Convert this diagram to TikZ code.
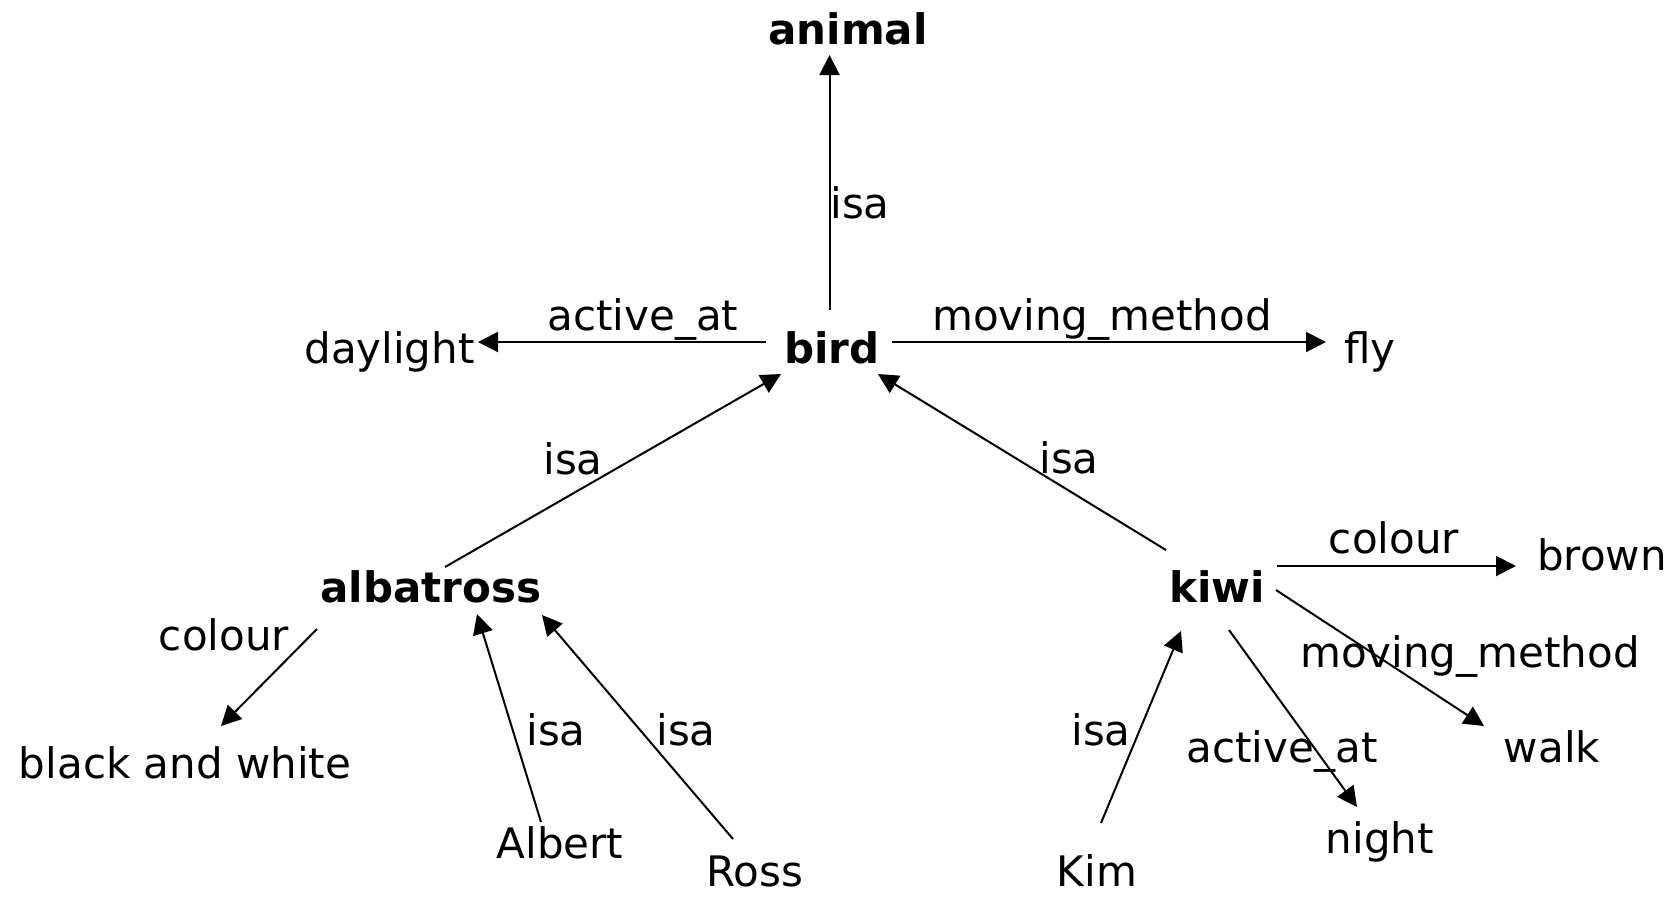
\documentclass[tikz,border=0pt]{standalone}
\usepackage{fontspec}
\setmainfont{DejaVu Sans}
\usetikzlibrary{arrows.meta,calc}
\begin{document}
\begin{tikzpicture}[x=0.5pt,y=-0.5pt,
  txt/.style={inner sep=0pt,anchor=base,font=\fontsize{21pt}{25pt}\selectfont},
  concept/.style={txt,font=\fontsize{21pt}{25pt}\selectfont\bfseries},
  lbl/.style={txt},
  arr/.style={line width=1pt,-{Triangle[length=10pt,width=10pt]}}]
\useasboundingbox (0,0) rectangle (1677,896);
% nodes
\node[concept] (animal) at (848,44) {animal};
\node[concept] (bird) at (832,363) {bird};
\node[txt] (daylight) at (389.5,363) {daylight};
\node[txt] (fly) at (1370,363) {fly};
\node[concept] (albatross) at (431,602) {albatross};
\node[concept] (kiwi) at (1217,602) {kiwi};
\node[txt] (brown) at (1602,570) {brown};
\node[txt] (walk) at (1552,762) {walk};
\node[txt] (night) at (1380,853) {night};
\node[txt] (kim) at (1097,886) {Kim};
\node[txt] (bw) at (185,778) {black and white};
\node[txt] (albert) at (560,858) {Albert};
\node[txt] (ross) at (755,886) {Ross};
% labels
\node[lbl] (l1) at (860,218) {isa};
\node[lbl] (l2) at (643,330) {active\_at};
\node[lbl] (l3) at (1102,330) {moving\_method};
\node[lbl] (l4) at (1069,473) {isa};
\node[lbl] (l5) at (573,474) {isa};
\node[lbl] (l6) at (1394,553) {colour};
\node[lbl] (l7) at (224,650) {colour};
\node[lbl] (l8) at (556,745) {isa};
\node[lbl] (l9) at (686,745) {isa};
\node[lbl] (l10) at (1470,667) {moving\_method};
\node[lbl] (l11) at (1101,745) {isa};
\node[lbl] (l12) at (1282,762) {active\_at};
% edges
\draw[arr] ($(bird.base)+(-2.5,-53)$) -- ($(animal.base)+(-18.5,11)$);
\draw[arr] ($(bird.base)+(-66,-21)$) -- ($(daylight.base)+(88.5,-21)$);
\draw[arr] ($(bird.base)+(60,-21)$) -- ($(fly.base)+(-44,-21)$);
\draw[arr] ($(albatross.base)+(14,-35)$) -- ($(bird.base)+(-51,11)$);
\draw[arr] ($(kiwi.base)+(-51,-52)$) -- ($(bird.base)+(46,11)$);
\draw[arr] ($(kiwi.base)+(60,-36)$) -- ($(brown.base)+(-86,-4)$);
\draw[arr] ($(kiwi.base)+(59,-12)$) -- ($(walk.base)+(-68,-36)$);
\draw[arr] ($(kiwi.base)+(12,28)$) -- ($(night.base)+(-23,-46)$);
\draw[arr] ($(kim.base)+(4,-63)$) -- ($(kiwi.base)+(-36,29)$);
\draw[arr] ($(albatross.base)+(-114,27)$) -- ($(bw.base)+(36,-52)$);
\draw[arr] ($(albert.base)+(-19,-36)$) -- ($(albatross.base)+(46,12)$);
\draw[arr] ($(ross.base)+(-22,-47)$) -- ($(albatross.base)+(111,13)$);
\end{tikzpicture}
\end{document}
